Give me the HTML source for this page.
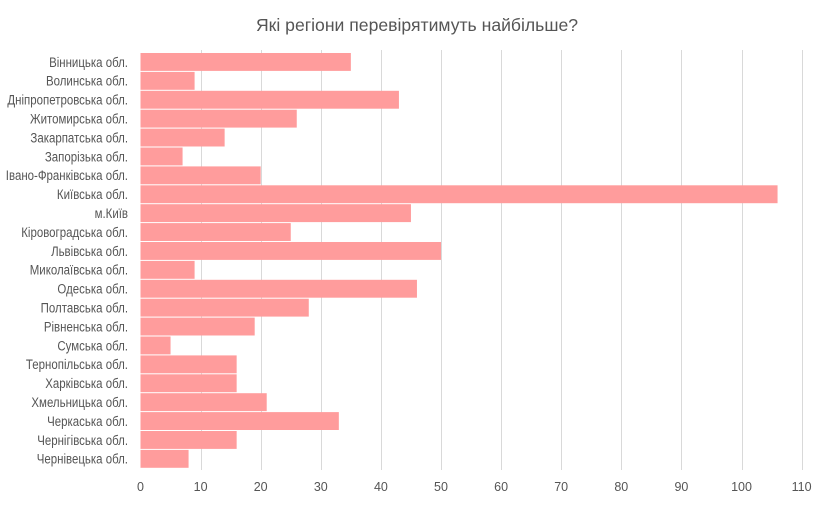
<!DOCTYPE html>
<html><head><meta charset="utf-8"><style>body{margin:0;background:#fff}svg{display:block}text{font-family:"Liberation Sans",Arial,sans-serif;fill:#555}</style></head>
<body>
<svg width="837" height="515" xmlns="http://www.w3.org/2000/svg">
<text x="417" y="31" font-size="17.6" text-anchor="middle">Які регіони перевірятимуть найбільше?</text>
<g id="grid" stroke="#d9d9d9" stroke-width="1"></g>
<g id="bars" fill="#ff9c9c"></g>
<g transform="translate(128,0) scale(0.85,1)"><g id="labels" font-size="13.5" text-anchor="end"></g></g>
<g id="ticks" font-size="12.5" text-anchor="middle"></g>
</svg>
<script>
(function(){
const names=["Вінницька обл.","Волинська обл.","Дніпропетровська обл.","Житомирська обл.","Закарпатська обл.","Запорізька обл.","Івано-Франківська обл.","Київська обл.","м.Київ","Кіровоградська обл.","Львівська обл.","Миколаївська обл.","Одеська обл.","Полтавська обл.","Рівненська обл.","Сумська обл.","Тернопільська обл.","Харківська обл.","Хмельницька обл.","Черкаська обл.","Чернігівська обл.","Чернівецька обл."];
const vals=[35,9,43,26,14,7,20,106,45,25,50,9,46,28,19,5,16,16,21,33,16,8];
const NS="http://www.w3.org/2000/svg",x0=140.5,k=6.01,y0=53,p=18.9;
const gg=id=>document.getElementById(id);
function el(t,a,par,txt){const e=document.createElementNS(NS,t);for(const n in a)e.setAttribute(n,a[n]);if(txt!=null)e.textContent=txt;gg(par).appendChild(e);}
for(let i=0;i<=11;i++){const x=Math.round(x0+i*k*10)+0.5;if(i>0)el("line",{x1:x,x2:x,y1:50,y2:470},"grid");el("text",{x:x0+i*k*10,y:491},"ticks",String(i*10));}
names.forEach((n,i)=>{const y=y0+i*p;el("rect",{x:x0,y:y,width:vals[i]*k,height:p-1},"bars");el("text",{x:0,y:y+13.8},"labels",n);});
})();
</script>
</body></html>
